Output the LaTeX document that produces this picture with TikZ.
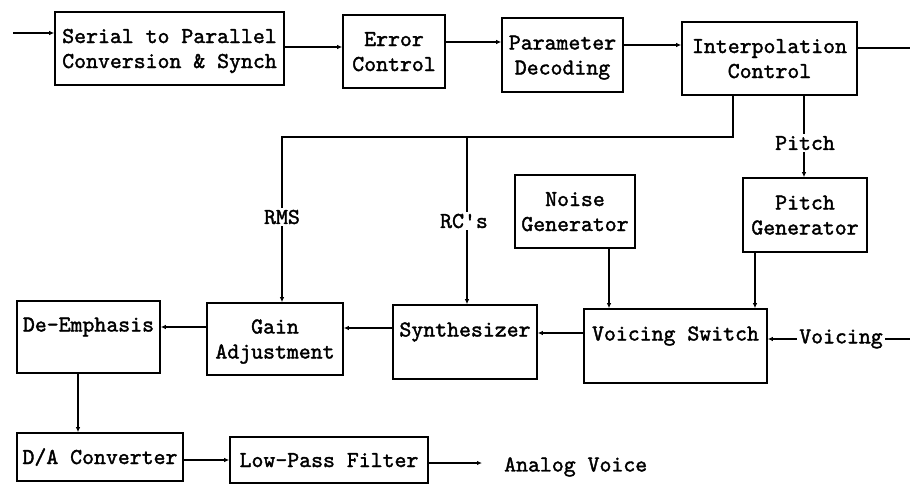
\documentclass[tikz,border=0pt]{standalone}
\usepackage{fontspec}
\newfontfamily\diafont{lmmono10-regular.otf}[FakeBold=1.6]
\usetikzlibrary{arrows.meta}
\newcommand\bs{\rule[-5.5pt]{0pt}{25pt}}
\begin{document}
\begin{tikzpicture}[x=1pt,y=-1pt,
  box/.style={draw, line width=1.6pt, rectangle, inner sep=0pt, align=center,
    font=\fontsize{22.7}{25}\selectfont\diafont},
  arr/.style={line width=1.3pt, -{Latex[length=5pt,width=4.5pt]}},
  ln/.style={line width=1.3pt},
  lab/.style={fill=white, inner sep=2pt, font=\fontsize{22.7}{25}\selectfont\diafont}]
\useasboundingbox (0,0) rectangle (910,483);

% top row
\node[box, minimum width=229pt, minimum height=73pt] (s2p) at (169.5,48.5)
  {\bs Serial to Parallel\\\bs Conversion \& Synch};
\node[box, minimum width=102pt, minimum height=73pt] (err) at (394,51.5)
  {\bs Error\\\bs Control};
\node[box, minimum width=121pt, minimum height=74pt] (par) at (562.5,55)
  {\bs Parameter\\\bs Decoding};
\node[box, minimum width=175pt, minimum height=73pt] (interp) at (769.5,58.5)
  {\bs Interpolation\\\bs Control};

% middle row
\node[box, minimum width=120pt, minimum height=73pt] (noise) at (575,211.5)
  {\bs Noise\\\bs Generator};
\node[box, minimum width=124pt, minimum height=74pt] (pgen) at (805,215)
  {\bs Pitch\\\bs Generator};

% lower row
\node[box, minimum width=183pt, minimum height=74pt] (vs) at (675.5,346)
  {\bs Voicing Switch\\\bs};
\node[box, minimum width=144pt, minimum height=74pt] (syn) at (465,342)
  {\bs Synthesizer\\\bs};
\node[box, minimum width=136pt, minimum height=72pt] (gain) at (275,339)
  {\bs Gain\\\bs Adjustment};
\node[box, minimum width=143pt, minimum height=72pt] (de) at (88.5,337)
  {\bs De-Emphasis\\\bs};

% bottom row
\node[box, minimum width=166pt, minimum height=48pt] (da) at (100,457)
  {\bs D/A Converter};
\node[box, minimum width=198pt, minimum height=46pt] (lpf) at (329,460)
  {\bs Low-Pass Filter};

% coordinates
\coordinate (in) at (13,33);
\coordinate (out) at (910,48);
\coordinate (j1) at (733,137);
\coordinate (j2) at (282,137);
\coordinate (j3) at (467,137);
\coordinate (vin) at (910,339);
\coordinate (ao) at (482,463);

% connectors
\draw[arr] (in) -- (in -| s2p.west);
\draw[arr] (s2p.east |- 0,47) -- (err.west |- 0,47);
\draw[arr] (err.east |- 0,42) -- (par.west |- 0,42);
\draw[arr] (par.east |- 0,45) -- (interp.west |- 0,45);
\draw[ln] (interp.east |- out) -- (out);
\draw[arr] (interp.south -| j1) -- (j1) -- (j2) -- (gain.north -| j2);
\draw[arr] (j3) -- (syn.north -| j3);
\draw[arr] (interp.south -| 804,0) -- (pgen.north -| 804,0);
\draw[arr] (noise.south -| 609,0) -- (vs.north -| 609,0);
\draw[arr] (pgen.south -| 755,0) -- (vs.north -| 755,0);
\draw[arr] (vin) -- (vs.east |- vin);
\draw[arr] (vs.west |- 0,333) -- (syn.east |- 0,333);
\draw[arr] (syn.west |- 0,328) -- (gain.east |- 0,328);
\draw[arr] (gain.west |- 0,327) -- (de.east |- 0,327);
\draw[arr] (de.south -| 78,0) -- (da.north -| 78,0);
\draw[arr] (da.east |- 0,460) -- (lpf.west |- 0,460);
\draw[arr] (lpf.east |- ao) -- (ao);

% labels
\node[lab] (rms) at (282,217) {RMS};
\node[lab] (rcs) at (464,221) {RC's};
\node[lab] (pitch) at (805,143) {Pitch};
\node[lab] (voicing) at (841,339) {Voicing};
\node[lab, anchor=west, fill=none] (av) at (502,467) {Analog Voice};
\end{tikzpicture}
\end{document}
